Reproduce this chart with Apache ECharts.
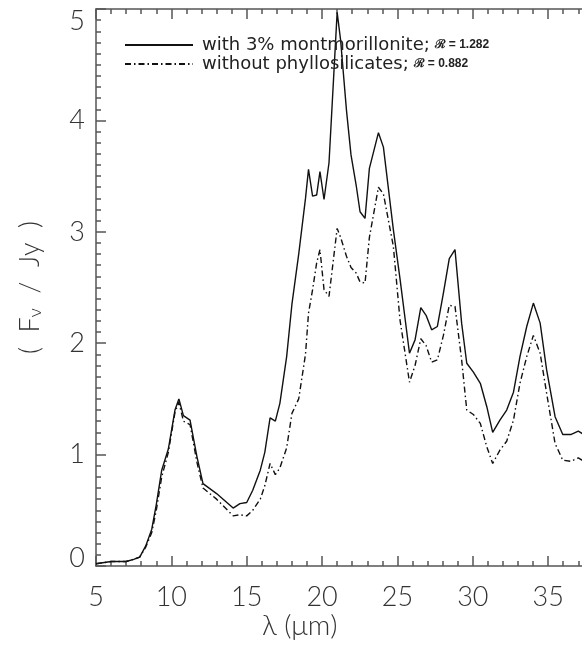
<!DOCTYPE html>
<html>
<head>
<meta charset="utf-8">
<script src="https://cdn.jsdelivr.net/npm/echarts@6/dist/echarts.min.js"></script>
<style>
  html, body { margin: 0; padding: 0; background: #fff; }
  #chart { width: 582px; height: 651px; }
</style>
</head>
<body>
<div id="chart"></div>
<script>
// wavelength samples (micron)
var wavelength = [5.0, 6.0, 7.0, 7.5, 7.9, 8.3, 8.7, 9.0, 9.36, 9.8, 10.24, 10.5, 10.8, 11.24, 11.7, 12.1, 13.0, 14.1, 14.55, 15.0,
  15.4, 15.9, 16.2, 16.55, 16.9, 17.2, 17.65, 18.0, 18.45, 18.9, 19.1, 19.37, 19.64, 19.86, 20.13, 20.46, 21.0, 21.23, 21.62, 21.92,
  22.26, 22.52, 22.85, 23.14, 23.74, 24.07, 24.73, 25.17, 25.8, 26.17, 26.55, 26.9, 27.27, 27.65, 28.05, 28.44, 28.82, 29.26, 29.6, 30.04,
  30.5, 30.93, 31.32, 31.8, 32.25, 32.7, 33.13, 33.58, 34.02, 34.47, 34.9, 35.46, 35.97, 36.5, 37.0, 37.5];

// with 3% montmorillonite (solid)
var fluxWith = [0.02, 0.04, 0.04, 0.06, 0.08, 0.18, 0.33, 0.55, 0.86, 1.05, 1.40, 1.50, 1.35, 1.31, 0.98, 0.74, 0.65, 0.52, 0.56, 0.57,
  0.68, 0.86, 1.02, 1.33, 1.30, 1.46, 1.88, 2.35, 2.80, 3.30, 3.56, 3.32, 3.33, 3.54, 3.29, 3.62, 4.97, 4.72, 4.09, 3.69,
  3.42, 3.18, 3.12, 3.57, 3.89, 3.76, 3.02, 2.58, 1.91, 2.03, 2.32, 2.25, 2.12, 2.15, 2.45, 2.76, 2.84, 2.18, 1.82, 1.74,
  1.64, 1.43, 1.20, 1.31, 1.40, 1.56, 1.88, 2.15, 2.36, 2.18, 1.76, 1.34, 1.18, 1.18, 1.21, 1.17];

// without phyllosilicates (dash-dot)
var fluxWithout = [0.02, 0.04, 0.04, 0.06, 0.08, 0.17, 0.30, 0.50, 0.80, 1.02, 1.38, 1.47, 1.30, 1.27, 0.93, 0.70, 0.60, 0.45, 0.46, 0.45,
  0.50, 0.60, 0.72, 0.92, 0.82, 0.88, 1.06, 1.37, 1.50, 1.90, 2.27, 2.48, 2.72, 2.84, 2.48, 2.42, 3.03, 2.95, 2.78, 2.68,
  2.63, 2.55, 2.54, 2.95, 3.40, 3.34, 2.87, 2.21, 1.65, 1.80, 2.04, 1.98, 1.83, 1.85, 2.07, 2.34, 2.33, 1.85, 1.40, 1.36,
  1.28, 1.07, 0.92, 1.04, 1.12, 1.31, 1.64, 1.88, 2.07, 1.91, 1.55, 1.10, 0.95, 0.94, 0.97, 0.93];

var seriesNames = ['with 3% montmorillonite;', 'without phyllosilicates;'];
var ratioValues = ['1.282', '0.882'];

function pairs(xs, ys) {
  var out = [];
  for (var i = 0; i < xs.length; i++) out.push([xs[i], ys[i]]);
  return out;
}

var axisColor = '#555';
var font = 'Lato, "DejaVu Sans", sans-serif';

var chart = echarts.init(document.getElementById('chart'));
var option = {
  backgroundColor: '#fff',
  animation: false,
  grid: { left: 96, top: 9, width: 527.5, height: 557, outerBoundsMode: 'none', containLabel: false },
  legend: {
    orient: 'vertical',
    left: 119,
    top: 31,
    itemWidth: 68,
    itemHeight: 12,
    itemGap: 1,
    data: seriesNames,
    itemStyle: { opacity: 0 },
    formatter: function (name) {
      var i = seriesNames.indexOf(name);
      return name + ' {r|\u211B = ' + ratioValues[i] + '}';
    },
    textStyle: {
      color: '#222',
      fontSize: 18,
      fontFamily: '"DejaVu Sans", sans-serif',
      padding: [0, 0, 0, 4],
      rich: {
        r: { fontSize: 12, fontWeight: 'bold', color: '#222', fontFamily: '"Liberation Sans", sans-serif' }
      }
    }
  },
  xAxis: [{
    type: 'value', min: 5, max: 40, interval: 5, position: 'bottom',
    axisLine: { lineStyle: { color: axisColor, width: 1.5 } },
    axisTick: { inside: true, length: 10, lineStyle: { color: axisColor, width: 1.5 } },
    minorTick: { show: true, splitNumber: 5, length: 5, lineStyle: { color: axisColor, width: 1.5 } },
    splitLine: { show: false },
    axisLabel: { margin: 18, fontSize: 27, color: '#333', fontFamily: font, fontWeight: 300 }
  }, {
    type: 'value', min: 5, max: 40, interval: 5, position: 'top',
    axisLine: { show: true, lineStyle: { color: axisColor, width: 1.5 } },
    axisTick: { show: true, inside: true, length: 10, lineStyle: { color: axisColor, width: 1.5 } },
    minorTick: { show: true, splitNumber: 5, length: 5, lineStyle: { color: axisColor, width: 1.5 } },
    splitLine: { show: false },
    axisLabel: { show: false }
  }],
  yAxis: {
    type: 'value', min: 0, max: 5, interval: 1,
    name: '(  F{sub|\u03BD}  /  Jy  )',
    nameLocation: 'middle',
    nameGap: 52,
    nameTextStyle: {
      fontSize: 27, color: '#333', fontFamily: font, fontWeight: 300,
      rich: { sub: { fontSize: 18, color: '#333', fontFamily: font, padding: [10, 0, 0, 0] } }
    },
    axisLine: { show: true, lineStyle: { color: axisColor, width: 1.5 } },
    axisTick: { inside: true, length: 10, lineStyle: { color: axisColor, width: 1.5 } },
    minorTick: { show: true, splitNumber: 10, length: 5, lineStyle: { color: axisColor, width: 1.5 } },
    splitLine: { show: false },
    axisLabel: {
      margin: 11, fontSize: 27, color: '#333', fontFamily: font, fontWeight: 300,
      // end labels sit inside the frame, as in the original
      formatter: function (v) {
        if (v === 5) return '{hi|' + v + '}';
        if (v === 0) return '{lo|' + v + '}';
        return '' + v;
      },
      rich: {
        hi: { fontSize: 27, color: '#333', fontFamily: font, fontWeight: 300, padding: [24, 0, 0, 0] },
        lo: { fontSize: 27, color: '#333', fontFamily: font, fontWeight: 300, padding: [0, 0, 16, 0] }
      }
    }
  },
  graphic: [{
    type: 'text', left: 262, top: 612,
    style: { text: '\u03BB (\u03BCm)', fontSize: 28, fill: '#333', fontFamily: font, fontWeight: 300 }
  }],
  series: [{
    name: seriesNames[0],
    type: 'line',
    symbol: 'none',
    data: pairs(wavelength, fluxWith),
    lineStyle: { color: '#111', width: 1.4, type: 'solid' },
    itemStyle: { color: '#111' }
  }, {
    name: seriesNames[1],
    type: 'line',
    symbol: 'none',
    data: pairs(wavelength, fluxWithout),
    lineStyle: { color: '#111', width: 1.4, type: [6, 3, 1.5, 3] },
    itemStyle: { color: '#111' }
  }]
};
chart.setOption(option);
</script>
</body>
</html>
